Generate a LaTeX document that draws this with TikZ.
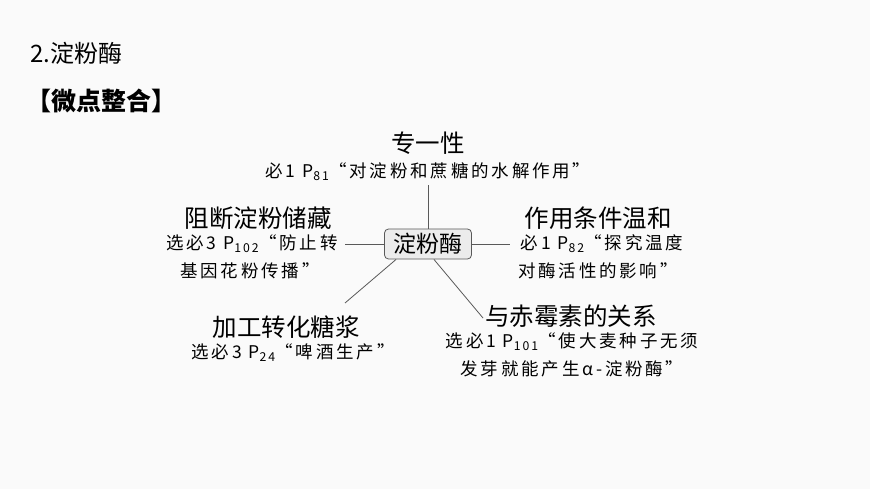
\documentclass[tikz,border=0pt]{standalone}
\usepackage{fontspec}
\setmainfont{Liberation Serif}
\newfontfamily\cjk{Noto Sans CJK SC}[LetterSpace=16]
\newfontfamily\cjkb{Noto Sans CJK SC}
\begin{document}
\begin{tikzpicture}[x=1pt,y=-1pt,
  big/.style={font=\cjkb\fontsize{24.5}{26}\selectfont,inner sep=0pt},
  small/.style={font=\cjk\fontsize{17.5}{19}\selectfont,inner sep=0pt},
  ln/.style={draw=gray!70!black,line width=0.8pt}]
\fill[white!96!gray] (0,0) rectangle (870,489);
\useasboundingbox (0,0) rectangle (870,489);
\node[anchor=west,font=\cjkb\fontsize{24}{26}\selectfont,inner sep=0pt] (t) at (30,53) {2.淀粉酶};
\node[anchor=west,font=\cjkb\bfseries\fontsize{25}{27}\selectfont,inner sep=0pt] (h) at (26,101) {【微点整合】};
\node[draw=gray!70!black,fill=gray!15,rounded corners=4pt,font=\cjkb\fontsize{23}{25}\selectfont,minimum width=87pt,minimum height=30pt,inner sep=0pt,line width=0.8pt] (c) at (428,244) {淀粉酶};
\node[big] (a1) at (428,143) {专一性};
\node[small] (a2) at (428,172) {必1 P\textsubscript{81}“对淀粉和蔗糖的水解作用”};
\node[big] (b1) at (258,218) {阻断淀粉储藏};
\node[small] (b2) at (252,244) {选必3 P\textsubscript{102}“防止转};
\node[small] (b3) at (250,271) {基因花粉传播”};
\node[big] (d1) at (598,218) {作用条件温和};
\node[small] (d2) at (602,244) {必1 P\textsubscript{82}“探究温度};
\node[small] (d3) at (598,271) {对酶活性的影响”};
\node[big] (e1) at (286,327) {加工转化糖浆};
\node[small] (e2) at (293,353) {选必3 P\textsubscript{24}“啤酒生产”};
\node[big] (f1) at (571,316) {与赤霉素的关系};
\node[small] (f2) at (572,342) {选必1 P\textsubscript{101}“使大麦种子无须};
\node[small] (f3) at (572,369) {发芽就能产生α-淀粉酶”};
\coordinate (pa) at (428,185);
\coordinate (pb) at (345,244);
\coordinate (pd) at (510,244);
\coordinate (pe) at (345,303);
\coordinate (pf) at (483,318);
\draw[ln] (c.north) -- (pa);
\draw[ln] (c.west) -- (pb);
\draw[ln] (c.east) -- (pd);
\draw[ln] ([xshift=12pt]c.south west) -- (pe);
\draw[ln] ([xshift=-38pt]c.south east) -- (pf);
\end{tikzpicture}
\end{document}
